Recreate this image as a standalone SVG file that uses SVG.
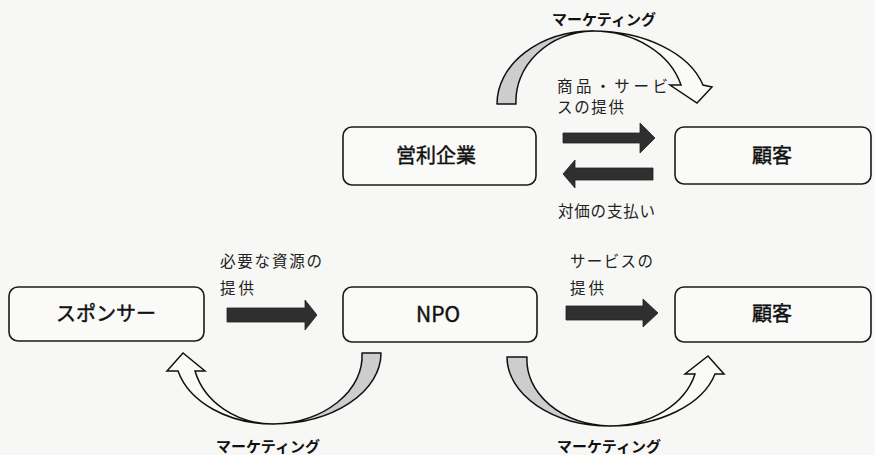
<svg xmlns="http://www.w3.org/2000/svg" width="875" height="455" viewBox="0 0 875 455">
<style>
.box{fill:#fafaf8;stroke:#1a1a1a;stroke-width:1.6}
.lbl{font-family:"Noto Sans CJK JP","Liberation Sans",sans-serif;font-size:20px;fill:#111;stroke:#111;stroke-width:0.45;text-anchor:middle}
.sm{font-family:"Noto Sans CJK JP","Liberation Sans",sans-serif;font-size:15.5px;fill:#222}
.mk{font-family:"Noto Sans CJK JP","Liberation Sans",sans-serif;font-size:15px;fill:#111;font-weight:bold;text-anchor:middle}
.blk{fill:#2f2f2f;stroke:#222;stroke-width:0.8}
.back{fill:#cdcdcd;stroke:#111;stroke-width:1.5;stroke-linejoin:round}
.front{fill:#fafaf8;stroke:#111;stroke-width:1.5;stroke-linejoin:miter}
</style>
<rect width="875" height="455" fill="#f7f7f5"/>
<g id="node-eiri">
<rect class="box" x="343" y="127" width="193" height="58" rx="9"/>
<text class="lbl" x="436" y="163">営利企業</text>
</g>
<g id="node-kokyaku1">
<rect class="box" x="675" y="127" width="196" height="57" rx="9"/>
<text class="lbl" x="772" y="163">顧客</text>
</g>
<g id="node-sponsor">
<rect class="box" x="9" y="287" width="195" height="54" rx="9"/>
<text class="lbl" x="106" y="321">スポンサー</text>
</g>
<g id="node-npo">
<rect class="box" x="343" y="287" width="194" height="55" rx="9"/>
<text class="lbl" x="438" y="322" style="font-size:21px">NPO</text>
</g>
<g id="node-kokyaku2">
<rect class="box" x="675" y="287" width="196" height="55" rx="9"/>
<text class="lbl" x="772" y="321">顧客</text>
</g>
<g id="connectors">
<polygon class="blk" points="563,133 640,133 640,123 655,138 640,153 640,143 563,143"/>
<polygon class="blk" points="653,168 575,168 575,160 563,174 575,188 575,180 653,180"/>
<polygon class="blk" points="227,308 305,308 305,300 317,315 305,330 305,322 227,322"/>
<polygon class="blk" points="566,306 643,306 643,299 658,313 643,327 643,320 566,320"/>
<path class="back" d="M497,104 A96,73 0 0 1 593,31 A80,70 0 0 0 516,104 Z"/>
<path class="front" d="M593,31 A114,73 0 0 1 703,85 L712,87 L697,103 L670,85 L681,85 A91,73 0 0 0 593,31 Z"/>
<path class="back" d="M381,353 A108,71 0 0 1 273,424 A92,68 0 0 0 362,353 Z"/>
<path class="front" d="M273,424 A98,71 0 0 1 178,371 L167,371 L183,353 L205,371 L195,371 A81,71 0 0 0 273,424 Z"/>
<path class="back" d="M507,357 A103,69 0 0 0 610,426 A86,66 0 0 1 527,357 Z"/>
<path class="front" d="M610,426 A108,69 0 0 0 715,374 L724,374 L708,356 L685,374 L695,374 A88,69 0 0 1 610,426 Z"/>
</g>
<g id="labels">
<text class="mk" x="604" y="25">マーケティング</text>
<text class="sm" x="557" y="92" textLength="111" lengthAdjust="spacing">商品・サービ</text>
<text class="sm" x="557" y="113" textLength="67" lengthAdjust="spacing">スの提供</text>
<text class="sm" x="558" y="217" textLength="97" lengthAdjust="spacing">対価の支払い</text>
<text class="sm" x="220" y="267" textLength="102" lengthAdjust="spacing">必要な資源の</text>
<text class="sm" x="220" y="294" textLength="34" lengthAdjust="spacing">提供</text>
<text class="sm" x="570" y="267" textLength="83" lengthAdjust="spacing">サービスの</text>
<text class="sm" x="570" y="294" textLength="34" lengthAdjust="spacing">提供</text>
<text class="mk" x="268" y="452">マーケティング</text>
<text class="mk" x="609" y="452">マーケティング</text>
</g>
</svg>
